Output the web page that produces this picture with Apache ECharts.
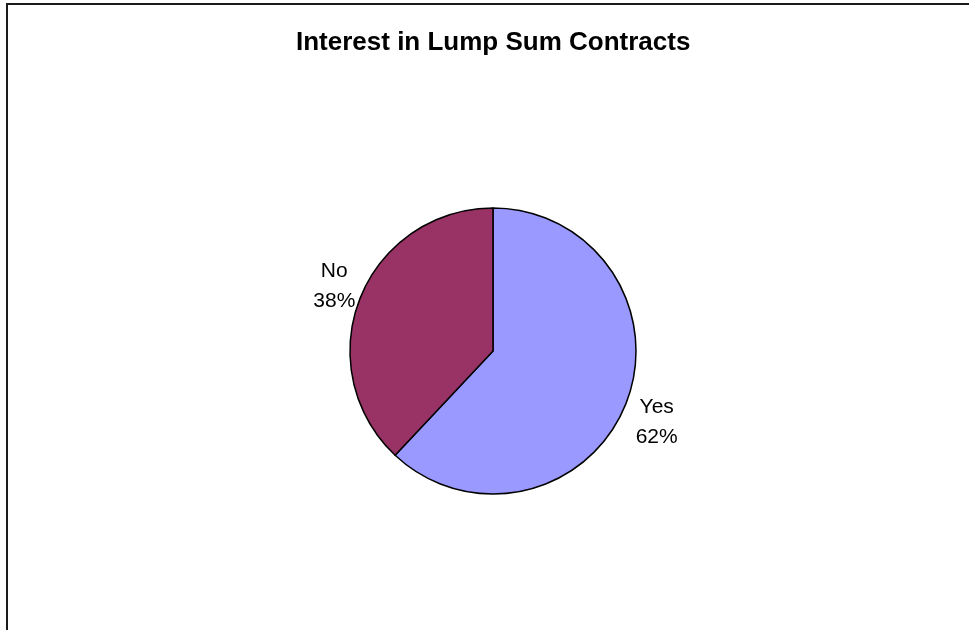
<!DOCTYPE html>
<html>
<head>
<meta charset="utf-8">
<script src="https://cdn.jsdelivr.net/npm/echarts@6/dist/echarts.min.js"></script>
<style>
  html, body { margin: 0; padding: 0; background: #fff; }
  #chart { width: 969px; height: 630px; }
</style>
</head>
<body>
<div id="chart"></div>
<script>
// Survey answers and their shares (percent)
const categories = ['Yes', 'No'];
const shares = [62, 38];
const sliceColors = ['#9999FF', '#993366'];
const chartTitle = 'Interest in Lump Sum Contracts';

// Fine nudges for each slice label, in pixels [dx, dy]
const labelNudge = { Yes: [-4, 7], No: [9, 0] };

const chart = echarts.init(document.getElementById('chart'), null, { renderer: 'canvas' });

const pieData = categories.map((name, i) => ({
  name: name,
  value: shares[i],
  itemStyle: { color: sliceColors[i] }
}));

chart.setOption({
  animation: false,
  backgroundColor: '#ffffff',
  title: {
    text: chartTitle,
    left: 291,
    top: 25,
    textStyle: {
      fontFamily: 'Arial, "Liberation Sans", sans-serif',
      fontWeight: 'bold',
      fontSize: 26,
      color: '#000'
    }
  },
  graphic: [{
    type: 'rect',
    silent: true,
    shape: { x: 7, y: 4, width: 1100, height: 900 },
    style: { fill: null, stroke: '#1a1a1a', lineWidth: 2 }
  }],
  series: [{
    type: 'pie',
    center: [493, 351],
    radius: 143,
    startAngle: 90,
    clockwise: true,
    silent: true,
    emphasis: { disabled: true },
    itemStyle: { borderColor: '#000', borderWidth: 1.5 },
    label: {
      show: true,
      position: 'outside',
      formatter: p => p.name + '\n' + p.value + '%',
      fontFamily: 'Arial, "Liberation Sans", sans-serif',
      fontSize: 21,
      lineHeight: 30,
      color: '#000'
    },
    labelLine: { show: false, length: 32, length2: 0 },
    labelLayout: function (params) {
      const r = params.labelRect;
      const anchorX = params.align === 'right' ? r.x + r.width : r.x;
      const nudge = labelNudge[categories[params.dataIndex]] || [0, 0];
      return {
        x: anchorX + nudge[0],
        y: r.y + r.height / 2 + nudge[1],
        align: 'center',
        verticalAlign: 'middle'
      };
    },
    data: pieData
  }]
});
</script>
</body>
</html>
